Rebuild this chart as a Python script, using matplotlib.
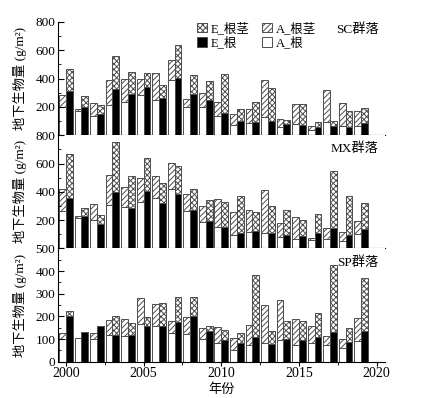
import matplotlib
matplotlib.use("Agg")
import matplotlib.pyplot as plt
import numpy as np
from matplotlib.ticker import MultipleLocator

plt.rcParams['font.family'] = ['Liberation Serif', 'Noto Sans CJK SC', 'DejaVu Sans']
plt.rcParams['hatch.linewidth'] = 0.7

years = list(range(2000, 2020))

# SC community
sc_A_root = [200, 171, 138, 215, 234, 286, 248, 389, 199, 199, 138, 72, 86, 128, 60, 81, 36, 93, 65, 67]
sc_A_total = [286, 187, 227, 387, 396, 396, 441, 533, 255, 298, 232, 149, 187, 389, 116, 220, 65, 319, 227, 168]
sc_E_root = [312, 196, 147, 324, 288, 340, 260, 404, 291, 246, 154, 98, 91, 102, 76, 72, 58, 67, 55, 86]
sc_E_total = [469, 279, 215, 556, 446, 439, 354, 634, 427, 382, 434, 185, 236, 333, 107, 220, 93, 102, 173, 194]

# MX community
mx_A_root = [265, 214, 200, 310, 296, 326, 359, 418, 265, 185, 150, 92, 115, 106, 80, 70, 59, 68, 54, 101]
mx_A_total = [418, 228, 312, 516, 432, 498, 509, 601, 385, 298, 347, 261, 272, 411, 178, 221, 77, 148, 115, 195]
mx_E_root = [357, 230, 176, 397, 286, 406, 322, 385, 272, 192, 153, 106, 120, 108, 96, 85, 106, 146, 96, 136]
mx_E_total = [667, 286, 235, 749, 512, 638, 460, 582, 418, 340, 329, 369, 258, 298, 275, 202, 242, 545, 369, 319]

# SP community
sp_A_root = [101, 104, 101, 118, 113, 168, 157, 125, 122, 99, 81, 54, 76, 81, 96, 74, 85, 76, 60, 90]
sp_A_total = [125, 104, 125, 184, 187, 282, 256, 182, 196, 147, 154, 106, 162, 249, 271, 187, 160, 113, 101, 193]
sp_E_root = [201, 131, 160, 118, 118, 157, 160, 174, 201, 137, 97, 82, 110, 78, 100, 96, 109, 131, 88, 137]
sp_E_total = [222, 131, 160, 200, 169, 197, 260, 284, 284, 160, 140, 129, 381, 134, 182, 178, 216, 429, 150, 368]

panels = [
    ("SC群落", sc_A_root, sc_A_total, sc_E_root, sc_E_total, 800, 200, 100),
    ("MX群落", mx_A_root, mx_A_total, mx_E_root, mx_E_total, 800, 200, 100),
    ("SP群落", sp_A_root, sp_A_total, sp_E_root, sp_E_total, 500, 100, 50),
]
label_y = [0.93, 0.885, 0.877]

fig = plt.figure(figsize=(4.21, 3.98), dpi=100)
gs = fig.add_gridspec(3, 1, left=0.138, right=0.915, top=0.945, bottom=0.091, hspace=0)

x = np.array(years, dtype=float)
w = 0.44
ec = '0.3'
lw = 0.7
axes = []
for i, (name, ar, at, er, et, ymax, major, minor) in enumerate(panels):
    ax = fig.add_subplot(gs[i])
    axes.append(ax)
    ar = np.array(ar); at = np.array(at); er = np.array(er); et = np.array(et)
    h1 = ax.bar(x - w / 2, ar, w, color='white', edgecolor=ec, linewidth=lw, label='A_根')
    h2 = ax.bar(x - w / 2, at - ar, w, bottom=ar, color='white', edgecolor=ec, linewidth=lw,
                hatch='//////', label='A_根茎')
    h3 = ax.bar(x + w / 2, er, w, color='black', edgecolor=ec, linewidth=lw, label='E_根')
    h4 = ax.bar(x + w / 2, et - er, w, bottom=er, color='white', edgecolor=ec, linewidth=lw,
                hatch='xxxxxx', label='E_根茎')
    ax.set_xlim(1999.5, 2020.55)
    ax.set_ylim(0, ymax)
    ax.spines['top'].set_visible(False)
    ax.spines['right'].set_visible(False)
    ax.yaxis.set_major_locator(MultipleLocator(major))
    ax.yaxis.set_minor_locator(MultipleLocator(minor))
    ax.xaxis.set_major_locator(MultipleLocator(5))
    ax.xaxis.set_minor_locator(MultipleLocator(2.5))
    ax.tick_params(axis='y', which='both', direction='in', labelsize=9.5, pad=2)
    ax.tick_params(axis='y', which='major', length=4)
    ax.tick_params(axis='y', which='minor', length=2)
    ax.tick_params(axis='x', which='both', direction='out', labelsize=10, pad=1)
    ax.tick_params(axis='x', which='major', length=3)
    ax.tick_params(axis='x', which='minor', length=2)
    if i < 2:
        ax.tick_params(axis='x', labelbottom=False)
        yt = np.arange(major, ymax + 1, major)
    else:
        yt = np.arange(0, ymax + 1, major)
    ax.set_yticks(yt)
    ax.set_ylabel('地下生物量 (g/m²)', fontsize=9.5)
    ax.yaxis.set_label_coords(-0.095, 0.5)
    ax.text(0.98, label_y[i], name, transform=ax.transAxes, ha='right', va='center', fontsize=9.5)
    if i == 0:
        ax.legend([h4, h3, h2, h1], ['E_根茎', 'E_根', 'A_根茎', 'A_根'], ncol=2,
                  loc='upper left', bbox_to_anchor=(0.425, 1.0), frameon=False, fontsize=9,
                  handlelength=0.8, handleheight=0.8, handletextpad=0.3, columnspacing=1.0,
                  labelspacing=0.15, borderpad=0, borderaxespad=0)
    for sp in ['left', 'bottom']:
        ax.spines[sp].set_linewidth(0.8)

axes[2].set_xticks([2000, 2005, 2010, 2015, 2020])
axes[2].set_xlabel('年份', fontsize=9.5, labelpad=2)

fig.savefig('out.png', dpi=100)
